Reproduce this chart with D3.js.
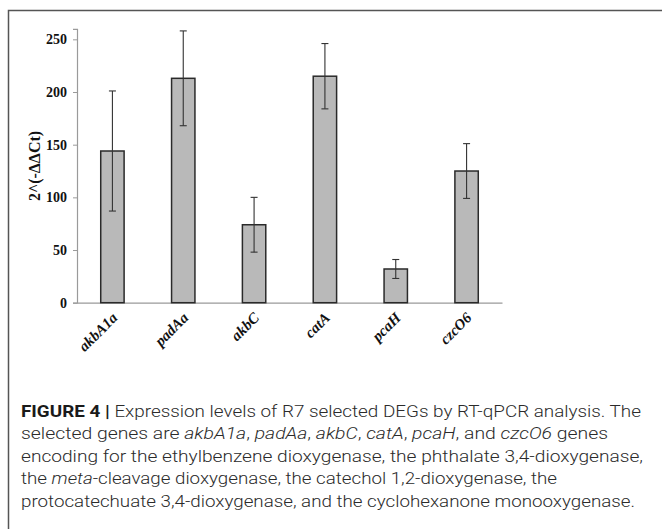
<!DOCTYPE html>
<html><head><meta charset="utf-8">
<script src="https://cdn.jsdelivr.net/npm/d3@7"></script>
<style>html,body{margin:0;padding:0;background:#fff;}svg{display:block;}</style>
</head><body>
<script>
const genes = ["akbA1a","padAa","akbC","catA","pcaH","czcO6"];
const means = [144, 213, 74, 215, 32, 125];
const errUp = [57, 45, 26, 31, 9, 26];
const errDown = [57, 45, 26, 31, 9, 26];
const yTicks = [0, 50, 100, 150, 200, 250];
const yTitle = "2^(-\u0394\u0394Ct)";
const captionLines = [
  [["FIGURE 4 |","b"],[" Expression levels of R7 selected DEGs by RT-qPCR analysis. The","n"]],
  [["selected genes are ","n"],["akbA1a","i"],[", ","n"],["padAa","i"],[", ","n"],["akbC","i"],[", ","n"],["catA","i"],[", ","n"],["pcaH","i"],[", and ","n"],["czcO6","i"],[" genes","n"]],
  [["encoding for the ethylbenzene dioxygenase, the phthalate 3,4-dioxygenase,","n"]],
  [["the ","n"],["meta","i"],["-cleavage dioxygenase, the catechol 1,2-dioxygenase, the","n"]],
  [["protocatechuate 3,4-dioxygenase, and the cyclohexanone monooxygenase.","n"]]
];
const captionEnds = [641, 608, 643, 557, 635];

const W = 662, H = 529;
const svg = d3.select("body").append("svg").attr("width", W).attr("height", H);

// frame
svg.append("path").attr("d", `M8.5,${H} L8.5,10.5 L${W},10.5`)
  .attr("fill","none").attr("stroke","#555").attr("stroke-width",1.5);

const x = d3.scaleBand().domain(genes).range([77, 502]).paddingInner(0.67).paddingOuter(0.335);
const y = d3.scaleLinear().domain([0, 260]).range([302.7, 28.8]);

const serif = "'Liberation Serif','Times New Roman',serif";

// y axis
const yAxis = d3.axisLeft(y).tickValues(yTicks).tickSize(4).tickPadding(6).tickFormat(d3.format("d"));
const gy = svg.append("g").attr("transform","translate(77,0)").call(yAxis);
gy.select(".domain").attr("stroke","#9a9a9a").attr("stroke-width",1.2);
gy.selectAll(".tick line").attr("stroke","#9a9a9a");
gy.selectAll(".tick text").attr("font-family",serif).attr("font-weight","bold")
  .attr("font-size",14).attr("fill","#111");

// x axis
const xAxis = d3.axisBottom(x).tickSize(0).tickSizeOuter(0).tickFormat("");
const gx = svg.append("g").attr("transform",`translate(0,${y(0)})`).call(xAxis);
gx.select(".domain").attr("stroke","#9a9a9a").attr("stroke-width",1.2);

// bars
svg.append("g").selectAll("rect").data(genes).join("rect")
  .attr("x", d => x(d)).attr("width", x.bandwidth())
  .attr("y", (d,i) => y(means[i])).attr("height", (d,i) => y(0) - y(means[i]))
  .attr("fill","#b9b9b9").attr("stroke","#2a2a2a").attr("stroke-width",1.5);

// error bars
const eg = svg.append("g").attr("stroke","#333").attr("stroke-width",1.1);
genes.forEach((g,i) => {
  const cx = x(g) + x.bandwidth()/2;
  const top = y(means[i] + errUp[i]), bot = y(means[i] - errDown[i]);
  eg.append("line").attr("x1",cx).attr("x2",cx).attr("y1",top).attr("y2",bot);
  eg.append("line").attr("x1",cx-3.5).attr("x2",cx+3.5).attr("y1",top).attr("y2",top);
  eg.append("line").attr("x1",cx-3.5).attr("x2",cx+3.5).attr("y1",bot).attr("y2",bot);
});

// x labels
svg.append("g").selectAll("text").data(genes).join("text")
  .attr("transform", d => `translate(${x(d) + x.bandwidth()/2 + 6},${y(0) + 16}) rotate(-45)`)
  .attr("text-anchor","end")
  .attr("font-family",serif).attr("font-weight","bold").attr("font-style","italic")
  .attr("font-size",15).attr("fill","#111")
  .text(d => d);

// y title
svg.append("text")
  .attr("transform","translate(40,166) rotate(-90)")
  .attr("text-anchor","middle")
  .attr("font-family",serif).attr("font-weight","bold").attr("font-size",16).attr("fill","#111")
  .text(yTitle);

// caption
const baselines = [416.7, 439.3, 461.8, 484.3, 506.8];
captionLines.forEach((line, li) => {
  const t = svg.append("text").attr("x",21).attr("y",baselines[li])
    .attr("font-family","Roboto, 'Liberation Sans', sans-serif").attr("font-size",17)
    .attr("font-weight",300).attr("fill","#2b2b2b")
    .attr("textLength", captionEnds[li]-21).attr("lengthAdjust","spacingAndGlyphs");
  line.forEach(([s, st]) => {
    const ts = t.append("tspan").text(s);
    if (st === "b") ts.attr("font-weight", "bold").attr("fill","#1a1a1a");
    if (st === "i") ts.attr("font-style", "italic");
  });
});
</script>
</body></html>
